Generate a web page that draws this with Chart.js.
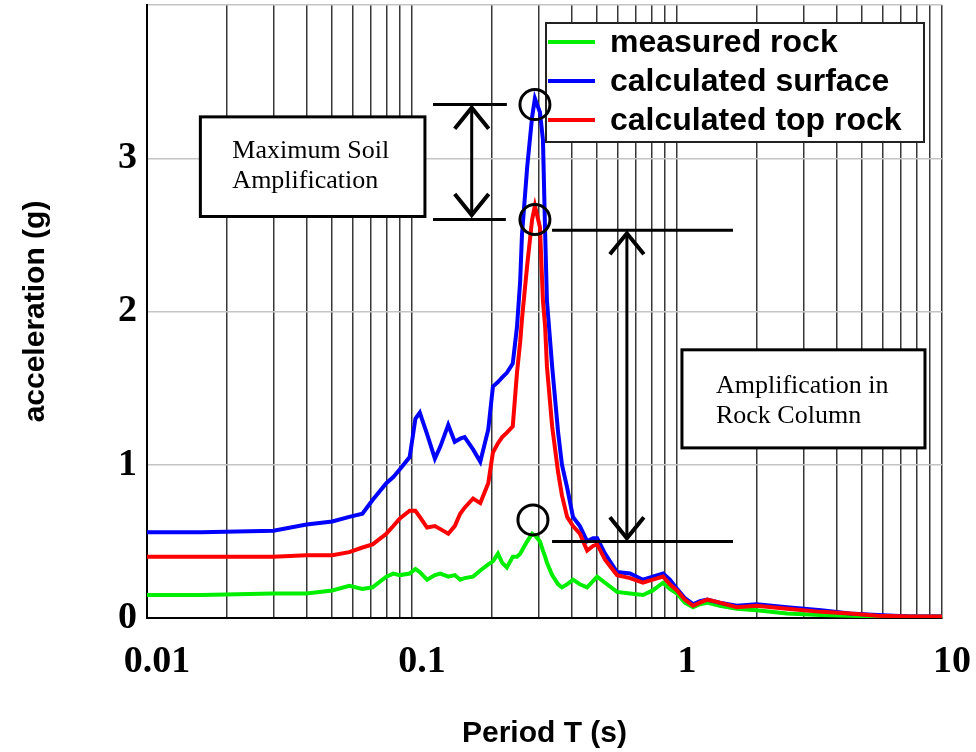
<!DOCTYPE html>
<html>
<head>
<meta charset="utf-8">
<script src="https://cdn.jsdelivr.net/npm/chart.js@4.4.1/dist/chart.umd.min.js"></script>
<style>
html, body { margin: 0; padding: 0; background: #fff; }
#wrap { width: 976px; height: 752px; }
</style>
</head>
<body>
<div id="wrap"><canvas id="myChart" width="976" height="752"></canvas></div>
<script>
// period T (s)
var periods = [0.01, 0.016, 0.03, 0.04, 0.05, 0.058, 0.065, 0.071, 0.08, 0.085,
    0.09, 0.098, 0.103, 0.107, 0.114, 0.122, 0.128, 0.137, 0.145, 0.152,
    0.158, 0.17, 0.181, 0.194, 0.202, 0.211, 0.219, 0.228, 0.24, 0.249,
    0.256, 0.26, 0.272, 0.284, 0.291, 0.304, 0.312, 0.318, 0.323, 0.338,
    0.356, 0.368, 0.385, 0.405, 0.43, 0.458, 0.482, 0.5, 0.535, 0.594,
    0.665, 0.744, 0.81, 0.886, 0.94, 1.0, 1.07, 1.15, 1.22, 1.3,
    1.45, 1.68, 2.0, 2.6, 3.5, 4.5, 5.7, 7.6, 10];

var measuredRock = [0.15, 0.15, 0.16, 0.16, 0.18, 0.21, 0.19, 0.20, 0.27, 0.29,
    0.28, 0.29, 0.32, 0.30, 0.25, 0.28, 0.29, 0.27, 0.28, 0.25,
    0.26, 0.27, 0.31, 0.35, 0.37, 0.42, 0.36, 0.33, 0.40, 0.40,
    0.42, 0.44, 0.50, 0.55, 0.54, 0.50, 0.44, 0.40, 0.36, 0.28,
    0.22, 0.20, 0.22, 0.25, 0.22, 0.20, 0.24, 0.27, 0.23, 0.17,
    0.16, 0.15, 0.18, 0.23, 0.19, 0.16, 0.10, 0.07, 0.09, 0.10,
    0.08, 0.06, 0.05, 0.03, 0.02, 0.015, 0.01, 0.01, 0.01];

var calcSurface = [0.56, 0.56, 0.57, 0.61, 0.63, 0.66, 0.68, 0.77, 0.88, 0.92,
    0.97, 1.05, 1.30, 1.34, 1.20, 1.04, 1.12, 1.26, 1.15, 1.17,
    1.18, 1.10, 1.02, 1.23, 1.51, 1.54, 1.57, 1.60, 1.66, 1.90,
    2.20, 2.50, 2.94, 3.27, 3.39, 3.30, 3.12, 2.51, 2.07, 1.64,
    1.21, 1.00, 0.85, 0.66, 0.60, 0.50, 0.52, 0.52, 0.42, 0.30,
    0.29, 0.25, 0.27, 0.29, 0.25, 0.19, 0.13, 0.09, 0.11, 0.12,
    0.10, 0.08, 0.09, 0.07, 0.05, 0.03, 0.02, 0.01, 0.01];

var calcTopRock = [0.40, 0.40, 0.40, 0.41, 0.41, 0.43, 0.46, 0.48, 0.55, 0.60,
    0.65, 0.70, 0.70, 0.66, 0.59, 0.60, 0.58, 0.55, 0.60, 0.68,
    0.72, 0.78, 0.75, 0.88, 1.08, 1.14, 1.18, 1.21, 1.25, 1.60,
    1.80, 1.95, 2.30, 2.60, 2.69, 2.55, 2.07, 1.90, 1.64, 1.25,
    0.95, 0.80, 0.66, 0.60, 0.55, 0.44, 0.47, 0.48, 0.38, 0.28,
    0.26, 0.23, 0.25, 0.27, 0.22, 0.18, 0.12, 0.08, 0.10, 0.12,
    0.10, 0.07, 0.08, 0.06, 0.04, 0.03, 0.015, 0.01, 0.01];

var seriesLabels = ['measured rock', 'calculated surface', 'calculated top rock'];
var seriesColors = ['#00ee00', '#0000ff', '#ff0000'];

var xLabelValues = [0.01, 0.1, 1, 10];
var yTickValues = [0, 1, 2, 3, 4];
var yLabelValues = [0, 1, 2, 3];

// log grid lines 1..9 per decade
var xGridValues = [];
[0.01, 0.1, 1].forEach(function(d) {
    for (var m = 1; m <= 9; m++) xGridValues.push(+(d * m).toPrecision(3));
});
xGridValues.push(10);

var tickFont = { family: 'Liberation Serif', size: 38, weight: 'bold' };

function toPoints(values) {
    return periods.map(function(p, i) { return { x: p, y: values[i] }; });
}

function chevron(ctx, x, y, dir) {
    // dir -1 points up, 1 points down
    ctx.beginPath();
    ctx.moveTo(x - 17, y - dir * 21);
    ctx.lineTo(x, y);
    ctx.lineTo(x + 17, y - dir * 21);
    ctx.stroke();
}

function textBox(ctx, x1, y1, x2, y2, lines, dx, dy) {
    ctx.fillStyle = '#fff';
    ctx.fillRect(x1, y1, x2 - x1, y2 - y1);
    ctx.lineWidth = 3;
    ctx.strokeStyle = '#000';
    ctx.strokeRect(x1, y1, x2 - x1, y2 - y1);
    ctx.fillStyle = '#000';
    ctx.font = '26px "Liberation Serif"';
    ctx.textAlign = 'left';
    ctx.textBaseline = 'alphabetic';
    for (var i = 0; i < lines.length; i++) {
        ctx.fillText(lines[i], x1 + dx, y1 + dy + i * 30);
    }
}

var annotationPlugin = {
    id: 'annotations',
    afterDatasetsDraw: function(chart) {
        var ctx = chart.ctx;
        var xs = chart.scales.x, ys = chart.scales.y, area = chart.chartArea;
        var X = function(v) { return xs.getPixelForValue(v); };
        var Y = function(v) { return ys.getPixelForValue(v); };
        ctx.save();

        textBox(ctx, X(0.0159), Y(3.27), X(0.1119), Y(2.62), ['Maximum Soil', 'Amplification'], 32, 41);
        textBox(ctx, X(1.044), Y(1.75), X(8.626), Y(1.11), ['Amplification in', 'Rock Column'], 34, 43);

        // legend
        var lx = area.right - 396, ly = area.top + 18;
        ctx.fillStyle = '#fff';
        ctx.fillRect(lx, ly, 378, 119);
        ctx.lineWidth = 2;
        ctx.strokeStyle = '#222';
        ctx.strokeRect(lx, ly, 378, 119);
        ctx.font = 'bold 32px "Liberation Sans"';
        for (var i = 0; i < seriesLabels.length; i++) {
            var yy = ly + 19 + i * 39;
            ctx.strokeStyle = seriesColors[i];
            ctx.lineWidth = 4;
            ctx.beginPath();
            ctx.moveTo(lx + 2, yy);
            ctx.lineTo(lx + 49, yy);
            ctx.stroke();
            ctx.fillStyle = '#000';
            ctx.fillText(seriesLabels[i], lx + 64, yy + 10);
        }

        ctx.strokeStyle = '#000';
        ctx.lineWidth = 3;
        // reference lines
        ctx.beginPath();
        ctx.moveTo(X(0.12), Y(3.35)); ctx.lineTo(X(0.228), Y(3.35));
        ctx.moveTo(X(0.12), Y(2.6)); ctx.lineTo(X(0.226), Y(2.6));
        ctx.moveTo(X(0.3377), Y(2.53)); ctx.lineTo(X(1.627), Y(2.53));
        ctx.moveTo(X(0.3377), Y(0.5)); ctx.lineTo(X(1.627), Y(0.5));
        // double arrows
        ctx.moveTo(X(0.168), Y(3.33)); ctx.lineTo(X(0.168), Y(2.63));
        ctx.moveTo(X(0.647), Y(2.51)); ctx.lineTo(X(0.647), Y(0.52));
        ctx.stroke();
        ctx.lineWidth = 4;
        chevron(ctx, X(0.168), Y(3.33), -1);
        chevron(ctx, X(0.168), Y(2.63), 1);
        chevron(ctx, X(0.647), Y(2.51), -1);
        chevron(ctx, X(0.647), Y(0.52), 1);

        // circles at the peaks
        ctx.lineWidth = 3;
        [[0.291, 3.35], [0.291, 2.6], [0.286, 0.64]].forEach(function(c) {
            ctx.beginPath();
            ctx.arc(X(c[0]), Y(c[1]), 15, 0, Math.PI * 2);
            ctx.stroke();
        });
        ctx.restore();
    }
};

var ctx = document.getElementById('myChart').getContext('2d');
var myChart = new Chart(ctx, {
    type: 'line',
    data: {
        datasets: [
            { label: seriesLabels[0], data: toPoints(measuredRock), borderColor: seriesColors[0], order: 2 },
            { label: seriesLabels[1], data: toPoints(calcSurface), borderColor: seriesColors[1], order: 1 },
            { label: seriesLabels[2], data: toPoints(calcTopRock), borderColor: seriesColors[2], order: 0 }
        ]
    },
    options: {
        responsive: false,
        devicePixelRatio: 1,
        animation: false,
        layout: { padding: { top: 5, right: 34, left: 0, bottom: 0 } },
        elements: {
            line: { borderWidth: 4, tension: 0, fill: false },
            point: { radius: 0 }
        },
        plugins: {
            legend: { display: false },
            tooltip: { enabled: false }
        },
        scales: {
            x: {
                type: 'logarithmic',
                min: 0.01,
                max: 10,
                afterBuildTicks: function(scale) {
                    scale.ticks = xGridValues.map(function(v) { return { value: v }; });
                },
                afterFit: function(scale) {
                    scale.height = 134;
                    scale.paddingLeft = 0;
                    scale.paddingRight = 0;
                },
                ticks: {
                    autoSkip: false,
                    maxRotation: 0,
                    padding: 21,
                    labelOffset: 10,
                    color: '#000',
                    font: tickFont,
                    callback: function(v) {
                        return xLabelValues.indexOf(v) >= 0 ? String(v) : '';
                    }
                },
                grid: { color: 'rgba(20,20,20,0.85)', lineWidth: 1.5, drawTicks: false },
                border: { color: '#000', width: 2 },
                title: {
                    display: true,
                    text: 'Period T (s)',
                    color: '#000',
                    font: { family: 'Liberation Sans', size: 30, weight: 'bold' },
                    padding: { top: 0, bottom: 0 }
                }
            },
            y: {
                min: 0,
                max: 4,
                afterBuildTicks: function(scale) {
                    scale.ticks = yTickValues.map(function(v) { return { value: v }; });
                },
                afterFit: function(scale) {
                    scale.width = 147;
                    scale.paddingTop = 0;
                    scale.paddingBottom = 0;
                },
                ticks: {
                    padding: 10,
                    color: '#000',
                    font: function(c) {
                        // the unlabelled top tick must not reserve room above the plot
                        return c.tick && c.tick.value === 4 ? { size: 1 } : tickFont;
                    },
                    callback: function(v) {
                        return yLabelValues.indexOf(v) >= 0 ? String(v) : '';
                    }
                },
                grid: { color: '#c4c4c4', lineWidth: 1.5, drawTicks: false },
                border: { color: '#000', width: 2 },
                title: {
                    display: true,
                    text: 'acceleration (g)',
                    color: '#000',
                    font: { family: 'Liberation Sans', size: 30, weight: 'bold' },
                    padding: { top: 18, bottom: 0 }
                }
            }
        }
    },
    plugins: [annotationPlugin]
});
</script>
</body>
</html>
